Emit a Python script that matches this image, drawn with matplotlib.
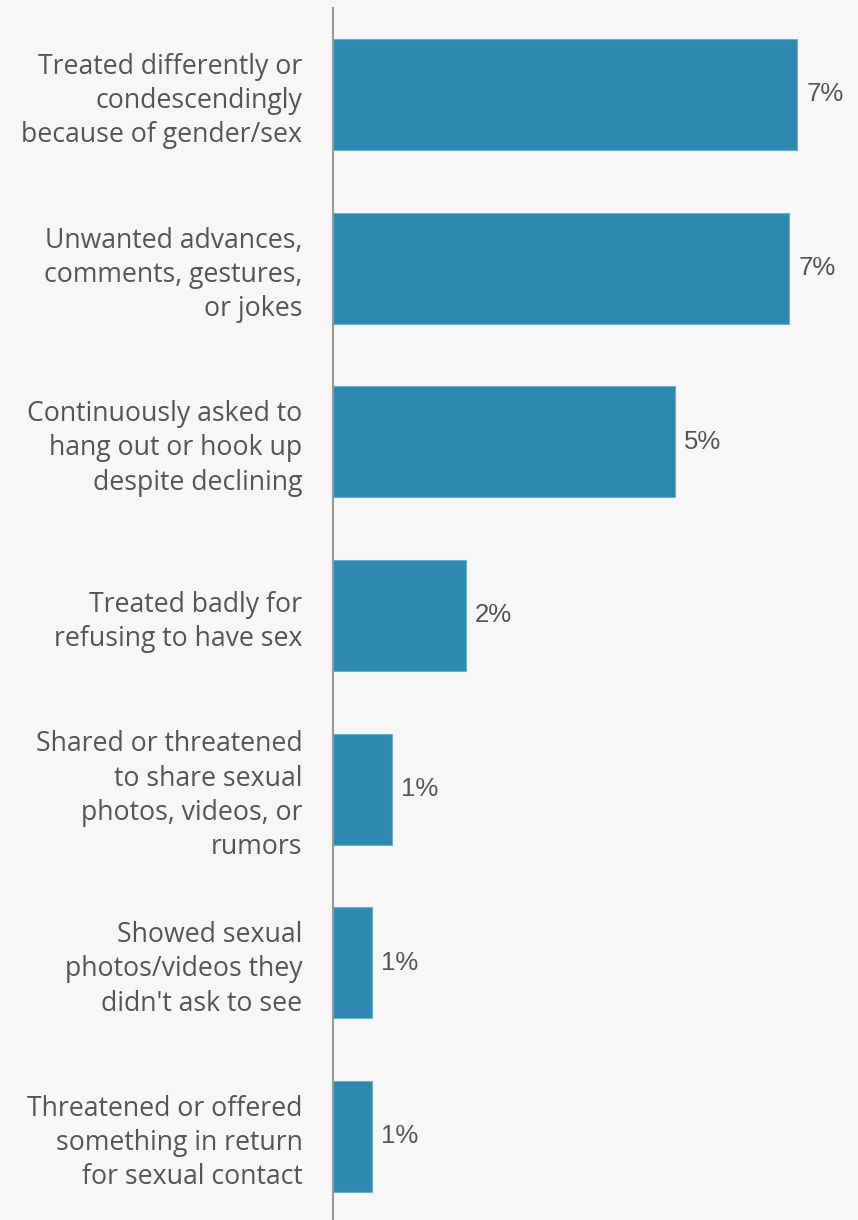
import matplotlib
matplotlib.use("Agg")
import matplotlib.pyplot as plt

categories = [
    "Treated differently or\ncondescendingly\nbecause of gender/sex",
    "Unwanted advances,\ncomments, gestures,\nor jokes",
    "Continuously asked to\nhang out or hook up\ndespite declining",
    "Treated badly for\nrefusing to have sex",
    "Shared or threatened\nto share sexual\nphotos, videos, or\nrumors",
    "Showed sexual\nphotos/videos they\ndidn't ask to see",
    "Threatened or offered\nsomething in return\nfor sexual contact",
]
values = [7.0, 6.88, 5.16, 2.0, 0.89, 0.59, 0.59]

BG = "#f7f7f7"
BAR = "#2e89b0"
EDGE = "#6aafce"
TEXT = "#555555"

fig = plt.figure(figsize=(8.58, 12.2), dpi=100, facecolor=BG)
ax = fig.add_axes([0.3881, 0.0, 0.6119, 0.99344])
ax.set_facecolor(BG)

ypos = list(range(len(categories)))
ax.barh(ypos, values, height=0.64, color=BAR, edgecolor=EDGE, linewidth=0.8, zorder=2)

ax.set_xlim(0, 7.92)
ax.set_ylim(6.481, -0.498)

for y, v in zip(ypos, values):
    ax.text(v + 0.14, y, f"{v:.0f}%", va="center", ha="left",
            fontsize=18.5, color=TEXT, family="Liberation Sans")

ax.set_yticks(ypos)
ax.set_yticklabels(categories, fontsize=19.2, color=TEXT, family="Open Sans",
                   linespacing=1.3)
ax.tick_params(axis="y", length=0, pad=22)
ax.set_xticks([])

for side in ("top", "right", "bottom"):
    ax.spines[side].set_visible(False)
ax.spines["left"].set_color("#999999")
ax.spines["left"].set_linewidth(1.5)
ax.spines["left"].set_zorder(3)

fig.savefig("out.png", dpi=100, facecolor=BG)
